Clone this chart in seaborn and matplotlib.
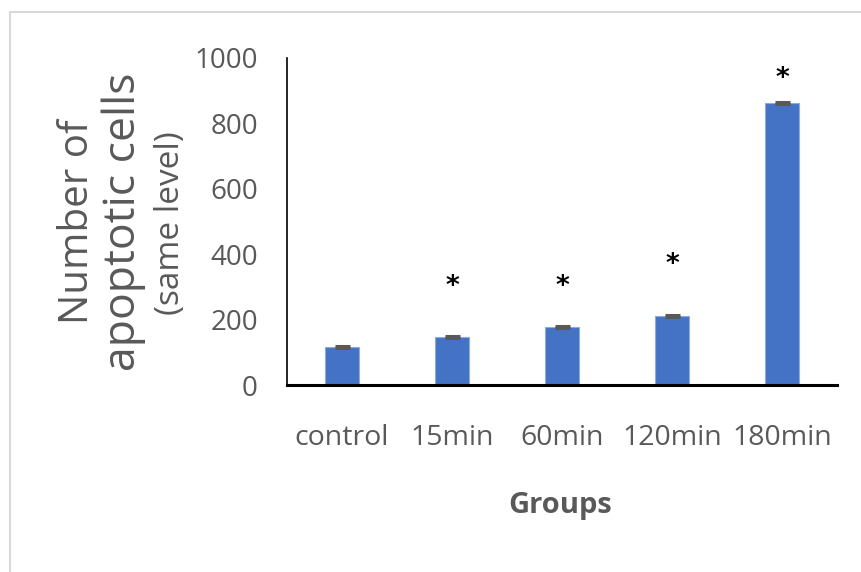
import matplotlib
matplotlib.use("Agg")
import matplotlib.pyplot as plt
import seaborn as sns
import pandas as pd
from matplotlib.lines import Line2D

groups = ["control", "15min", "60min", "120min", "180min"]
values = [117, 146, 178, 211, 863]
errors = [3, 3, 3, 3, 3]
star_pos = [None, 300, 300, 367, 936]

sns.set_theme(style="white")
plt.rcParams["font.family"] = ["Open Sans", "DejaVu Sans"]

fig = plt.figure(figsize=(8.61, 5.72), dpi=100)
ax = fig.add_axes([287/861, 1-385/572, 550/861, 327/572])

df = pd.DataFrame({"group": groups, "value": values})
sns.barplot(data=df, x="group", y="value", ax=ax, color="#4472C4",
            width=0.31, edgecolor="#8FAADC", linewidth=0.8, saturation=1, errorbar=None)
ax.errorbar(range(len(groups)), values, yerr=errors, fmt="none",
            ecolor="#595959", elinewidth=1.5, capsize=5.4, capthick=2.2)

for i, s in enumerate(star_pos):
    if s is not None:
        ax.text(i, s, "*", ha="center", va="center", fontsize=19,
                fontweight="bold", color="black", family="DejaVu Sans")

ax.set_ylim(0, 1000)
ax.set_xlim(-0.5, 4.5)
ax.set_yticks([0, 200, 400, 600, 800, 1000])
ax.tick_params(axis="both", length=0, colors="#595959")
ax.tick_params(axis="y", pad=21, labelsize=20)
ax.tick_params(axis="x", pad=28, labelsize=20.5)
ax.set_xlabel("")
ax.set_ylabel("")

for side in ["top", "right"]:
    ax.spines[side].set_visible(False)
ax.spines["left"].set_color("black")
ax.spines["left"].set_linewidth(1.2)
ax.spines["bottom"].set_color("black")
ax.spines["bottom"].set_linewidth(2.2)

fig.text(560/861, 1-505/572, "Groups", ha="center", va="center",
         fontsize=21, fontweight="bold", color="#595959")
fig.text(78/861, 1-222/572, "Number of", rotation=90, ha="center", va="center",
         fontsize=29, color="#595959")
fig.text(124/861, 1-222/572, "apoptotic cells", rotation=90, ha="center", va="center",
         fontsize=32, color="#595959")
fig.text(170/861, 1-223/572, "(same level)", rotation=90, ha="center", va="center",
         fontsize=24, color="#595959")

fig.add_artist(Line2D([10/861, 10/861], [0, 1-12/572], transform=fig.transFigure,
                      color="#D9D9D9", linewidth=1.5))
fig.add_artist(Line2D([10/861, 1], [1-12/572, 1-12/572], transform=fig.transFigure,
                      color="#D9D9D9", linewidth=1.5))

fig.savefig("out.png", dpi=100)
